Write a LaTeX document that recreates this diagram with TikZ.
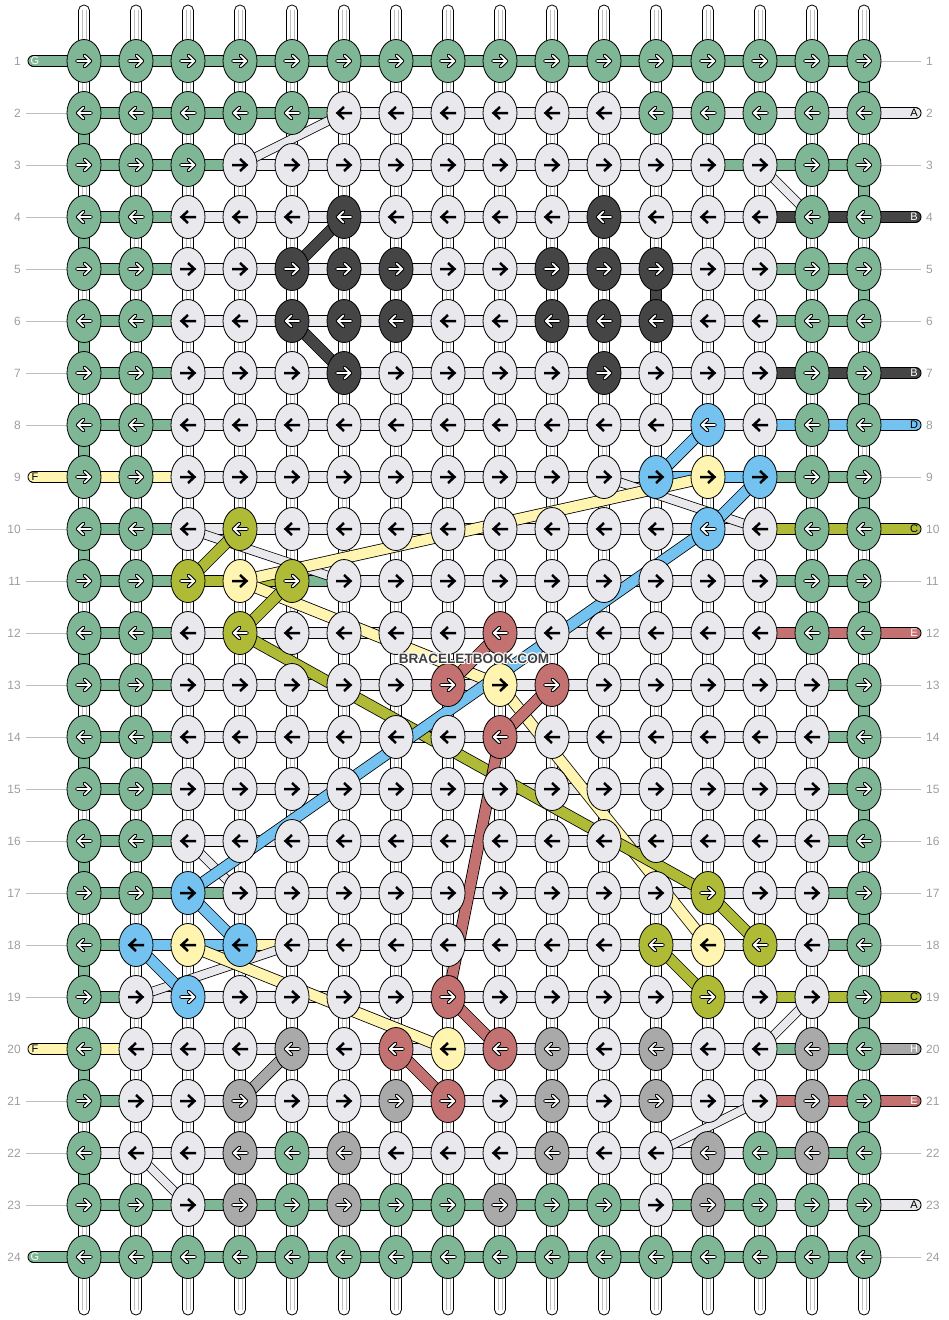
\documentclass[tikz,border=0pt]{standalone}
\usepackage{fontspec}
\setmainfont{Liberation Sans}
\usetikzlibrary{shapes.geometric}
\definecolor{cG}{HTML}{7FB796}
\definecolor{cW}{HTML}{E9E8EC}
\definecolor{cD}{HTML}{454545}
\definecolor{cB}{HTML}{73C2EF}
\definecolor{cb}{HTML}{73C2EF}
\definecolor{cY}{HTML}{FFF5B0}
\definecolor{cO}{HTML}{AFBB37}
\definecolor{cR}{HTML}{C47171}
\definecolor{cH}{HTML}{A9A9A9}
\definecolor{lblgray}{HTML}{9E9E9E}
\definecolor{linegray}{HTML}{BDBDBD}
\definecolor{wmgray}{HTML}{404040}
\tikzset{
  pics/solidarr/.style={code={\draw[line width=2.5pt] (-8,0) -- (5.5,0) (0,-6) -- (6.5,0) -- (0,6);}},
  pics/hollowarr/.style={code={
    \draw[line width=3.8pt, line join=round, line cap=round] (-7,0) -- (5.5,0) (0.5,-5.5) -- (6.3,0) -- (0.5,5.5);
    \draw[white, line width=1.7pt, line join=round, line cap=round] (-7,0) -- (5.5,0) (0.5,-5.5) -- (6.3,0) -- (0.5,5.5);}}
}
\begin{document}
\begin{tikzpicture}[x=1pt, y=-1pt,
  knot/.style={ellipse, draw=black, line width=0.8pt, minimum width=34pt, minimum height=43pt, inner sep=0pt},
  band/.style={draw=black, line width=12pt, postaction={draw=#1, line width=10.4pt}},
  vband/.style={draw=black, line width=11pt, postaction={draw=#1, line width=9.4pt}},
  thinband/.style={draw=black, line width=9.5pt, postaction={draw=#1, line width=8pt}},
  tab/.style={draw=black, line width=12pt, line cap=round, postaction={draw=#1, line width=10.4pt}},
  warp/.style={draw=black, fill=white, line width=0.8pt, rounded corners=5.4pt},
  warpline/.style={draw=linegray, line width=0.6pt},
  lbl/.style={text=lblgray, font=\fontsize{12}{14}\selectfont, inner sep=0pt},
  lblline/.style={draw=linegray, line width=0.8pt},
  tabtxt/.style={font=\fontsize{11}{13}\selectfont, inner sep=0pt},
  wm/.style={font=\fontsize{13.6}{15}\selectfont\bfseries, inner sep=0pt}]
\useasboundingbox (0,0) rectangle (948,1320);

\foreach \r in {1,...,24}
  \foreach \c in {1,...,16}
    \coordinate (p\r-\c) at ({32+52*\c},{9+52*\r});

% warp strings
\foreach \c in {1,...,16} {
  \draw[warp] ({32+52*\c-5.5},5) rectangle ({32+52*\c+5.5},1315);
  \draw[warpline] ({32+52*\c-1.8},10) -- ({32+52*\c-1.8},1310);
  \draw[warpline] ({32+52*\c+1.8},10) -- ({32+52*\c+1.8},1310);
}

% row labels
\foreach \r in {1,...,24} {
  \node[lbl, anchor=east] (nl\r) at (21,{9+52*\r}) {\r};
  \node[lbl, anchor=west] (nr\r) at (926,{9+52*\r}) {\r};
}
\foreach \r in {2,...,8,10,11,...,19,21,22,23}
  \draw[lblline] ([xshift=5pt]nl\r.east) -- (p\r-1);
\foreach \r in {1,3,5,6,9,11,13,14,15,16,17,18,22,24}
  \draw[lblline] (p\r-16) -- ([xshift=-5pt]nr\r.west);

% string ends
\foreach \r/\col in {1/cG, 9/cY, 20/cY, 24/cG} {
  \coordinate (el\r) at (33.5,{9+52*\r});
  \draw[tab=\col] (el\r) -- (p\r-1);
}
\foreach \r/\col in {2/cW, 4/cD, 7/cD, 8/cB, 10/cO, 12/cR, 19/cO, 20/cH, 21/cR, 23/cW} {
  \coordinate (er\r) at (915.5,{9+52*\r});
  \draw[tab=\col] (p\r-16) -- (er\r);
}

% horizontal threads
\foreach \r/\segs in {
  1/{G,G,G,G,G,G,G,G,G,G,G,G,G,G,G},
  2/{G,G,G,G,G,W,W,W,W,W,W,W,W,W,W},
  3/{G,G,G,W,W,W,W,W,W,W,W,W,G,G,G},
  4/{G,G,W,W,W,W,W,W,W,W,W,W,W,D,D},
  5/{G,G,W,W,W,W,W,W,W,W,W,W,W,G,G},
  6/{G,G,W,W,W,W,W,W,W,W,W,W,W,G,G},
  7/{G,G,W,W,W,W,W,W,W,W,W,W,W,D,D},
  8/{G,G,W,W,W,W,W,W,W,W,W,W,W,B,B},
  9/{Y,Y,W,W,W,W,W,W,W,W,W,B,B,G,G},
  10/{G,G,W,W,W,W,W,W,W,W,W,W,W,O,O},
  11/{G,G,O,O,G,W,W,W,W,W,W,W,W,G,G},
  12/{G,G,W,W,W,W,W,W,W,W,W,W,W,R,R},
  13/{G,G,W,W,W,W,W,W,W,W,W,W,W,W,G},
  14/{G,G,W,W,W,W,W,W,W,W,W,W,W,W,G},
  15/{G,G,W,W,W,W,W,W,W,W,W,W,W,W,G},
  16/{G,G,W,W,W,W,W,W,W,W,W,W,W,W,G},
  17/{G,G,G,W,W,W,W,W,W,W,W,W,W,W,G},
  18/{G,B,B,Y,W,W,W,W,W,W,W,W,W,W,G},
  19/{G,W,W,W,W,W,W,W,W,W,W,W,W,O,O},
  20/{Y,W,W,W,W,W,W,W,W,W,W,W,W,G,G},
  21/{G,W,W,W,W,W,W,W,W,W,W,W,W,R,R},
  22/{W,W,W,W,W,W,W,W,W,W,W,W,W,G,G},
  23/{G,G,G,G,G,G,G,G,G,G,G,G,G,W,W},
  24/{G,G,G,G,G,G,G,G,G,G,G,G,G,G,G}} {
  \foreach \s [count=\c] in \segs {
    \pgfmathtruncatemacro\n{\c+1}
    \draw[band=c\s] (p\r-\c) -- (p\r-\n);
  }
}

% vertical turns
\foreach \c/\r/\col in {1/2/G,1/4/G,1/6/G,1/8/G,1/10/G,1/12/G,1/14/G,1/16/G,1/18/G,1/20/G,1/22/G,
  16/1/G,16/3/G,16/5/G,16/7/G,16/9/G,16/11/G,16/13/G,16/15/G,16/17/G,16/19/G,16/21/G,16/23/G,
  12/5/D} {
  \pgfmathtruncatemacro\n{\r+1}
  \draw[vband=c\col] (p\r-\c) -- (p\n-\c);
}

% diagonal threads
\foreach \ca/\ra/\cb/\rb in {4/3/6/2, 14/3/15/4, 3/10/6/11, 11/9/14/10, 3/16/4/17,
  2/19/5/18, 15/19/14/20, 2/22/3/23, 14/21/12/22}
  \draw[thinband=cW] (p\ra-\ca) -- (p\rb-\cb);
\foreach \ca/\ra/\cb/\rb/\col in {13/9/4/11/cY, 4/11/9/13/cY, 9/13/13/18/cY, 3/18/8/20/cY,
  4/10/3/11/cO, 5/11/4/12/cO, 4/12/13/17/cO, 13/17/14/18/cO, 12/18/13/19/cO,
  13/8/12/9/cB, 14/9/13/10/cB, 13/10/3/17/cB, 3/17/4/18/cB, 2/18/3/19/cB,
  9/12/8/13/cR, 10/13/9/14/cR, 9/14/8/19/cR, 8/19/9/20/cR, 7/20/8/21/cR,
  6/4/5/5/cD, 5/6/6/7/cD, 5/20/4/21/cH}
  \draw[band=\col] (p\ra-\ca) -- (p\rb-\cb);

% knots
\foreach \r/\row in {
  1/{G,G,G,G,G,G,G,G,G,G,G,G,G,G,G,G},
  2/{G,G,G,G,G,W,W,W,W,W,W,G,G,G,G,G},
  3/{G,G,G,W,W,W,W,W,W,W,W,W,W,W,G,G},
  4/{G,G,W,W,W,D,W,W,W,W,D,W,W,W,G,G},
  5/{G,G,W,W,D,D,D,W,W,D,D,D,W,W,G,G},
  6/{G,G,W,W,D,D,D,W,W,D,D,D,W,W,G,G},
  7/{G,G,W,W,W,D,W,W,W,W,D,W,W,W,G,G},
  8/{G,G,W,W,W,W,W,W,W,W,W,W,b,W,G,G},
  9/{G,G,W,W,W,W,W,W,W,W,W,B,Y,B,G,G},
  10/{G,G,W,O,W,W,W,W,W,W,W,W,b,W,G,G},
  11/{G,G,O,Y,O,W,W,W,W,W,W,W,W,W,G,G},
  12/{G,G,W,O,W,W,W,W,R,W,W,W,W,W,G,G},
  13/{G,G,W,W,W,W,W,R,Y,R,W,W,W,W,W,G},
  14/{G,G,W,W,W,W,W,W,R,W,W,W,W,W,W,G},
  15/{G,G,W,W,W,W,W,W,W,W,W,W,W,W,W,G},
  16/{G,G,W,W,W,W,W,W,W,W,W,W,W,W,W,G},
  17/{G,G,B,W,W,W,W,W,W,W,W,W,O,W,W,G},
  18/{G,B,Y,B,W,W,W,W,W,W,W,O,Y,O,W,G},
  19/{G,W,b,W,W,W,W,R,W,W,W,W,O,W,W,G},
  20/{G,W,W,W,H,W,R,Y,R,H,W,H,W,W,H,G},
  21/{G,W,W,H,W,W,H,R,W,H,W,H,W,W,H,G},
  22/{G,W,W,H,G,H,W,W,W,H,W,W,H,G,H,G},
  23/{G,G,W,H,G,H,G,G,H,G,G,W,H,G,G,G},
  24/{G,G,G,G,G,G,G,G,G,G,G,G,G,G,G,G}} {
  \ifodd\r\relax \def\d{1}\else \def\d{-1}\fi
  \foreach \k [count=\c] in \row {
    \node[knot, fill=c\k] (k\r-\c) at (p\r-\c) {};
    \def\issolid{0}
    \if W\k \def\issolid{1}\fi
    \if Y\k \def\issolid{1}\fi
    \if B\k \def\issolid{1}\fi
    \ifnum\issolid=1
      \path (k\r-\c) pic[xscale=\d] {solidarr};
    \else
      \path (k\r-\c) pic[xscale=\d] {hollowarr};
    \fi
  }
}

% string end letters
\foreach \r/\txt/\tc in {1/G/white, 9/F/black, 20/F/black, 24/G/white}
  \node[tabtxt, text=\tc] (tl\r) at (35,{9+52*\r}) {\txt};
\foreach \r/\txt/\tc in {2/A/black, 4/B/white, 7/B/white, 8/D/black, 10/C/black, 12/E/white,
  19/C/black, 20/H/white, 21/E/white, 23/A/black}
  \node[tabtxt, text=\tc] (tr\r) at (914,{9+52*\r}) {\txt};

% watermark
\foreach \dx/\dy [count=\i] in {1.3/0,-1.3/0,0/1.3,0/-1.3,0.9/0.9,-0.9/0.9,0.9/-0.9,-0.9/-0.9}
  \node[wm, text=white] (wmh\i) at ({474+\dx},{659+\dy}) {BRACELETBOOK.COM};
\node[wm, text=wmgray] (wmark) at (474,659) {BRACELETBOOK.COM};
\end{tikzpicture}
\end{document}
